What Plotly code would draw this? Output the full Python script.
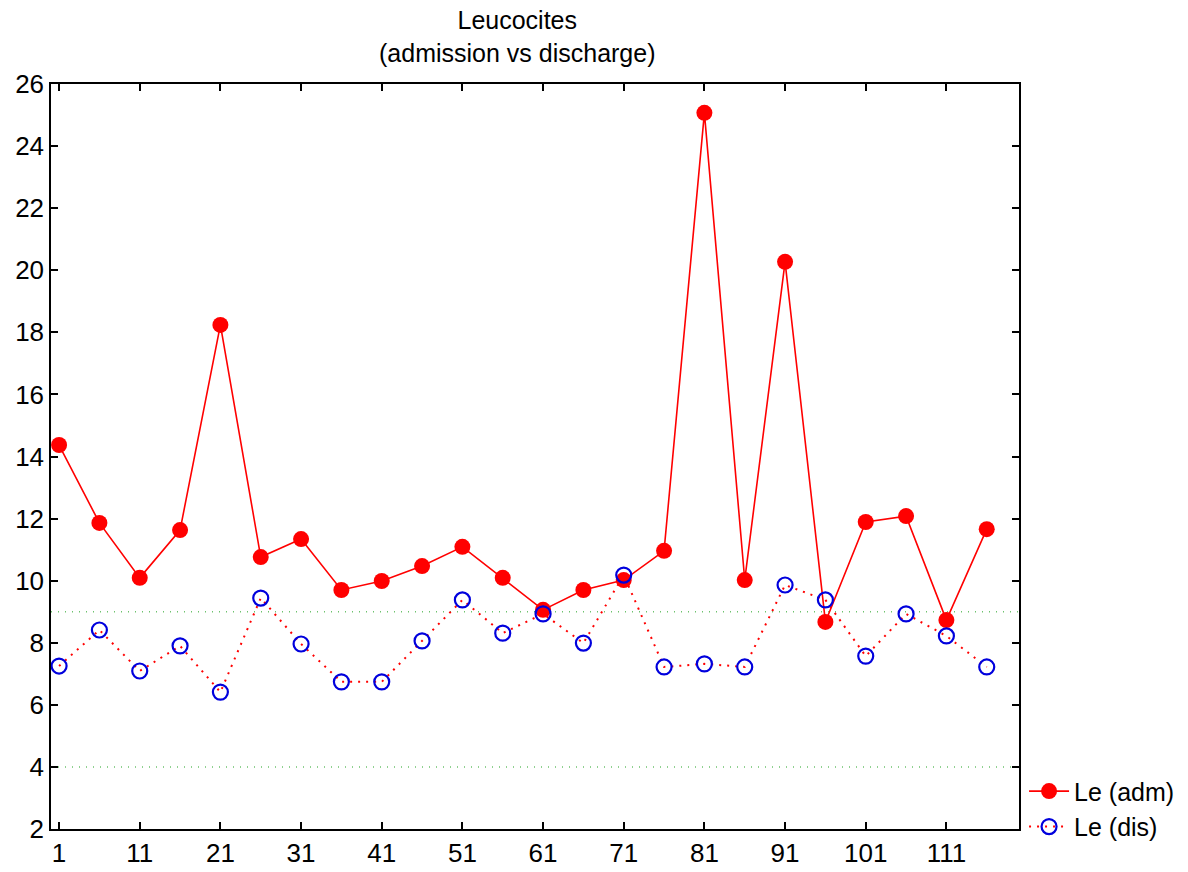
import plotly.graph_objects as go

# Patient index (every 5th case) and leucocyte counts
case_idx = [1, 6, 11, 16, 21, 26, 31, 36, 41, 46, 51, 56, 61, 66, 71, 76, 81, 86, 91, 96, 101, 106, 111, 116]
le_adm = [14.37, 11.86, 10.09, 11.63, 18.24, 10.76, 11.34, 9.70, 9.99, 10.47, 11.09, 10.09,
          9.06, 9.70, 10.02, 10.96, 25.07, 10.02, 20.27, 8.67, 11.89, 12.08, 8.73, 11.66]
le_dis = [7.25, 8.41, 7.09, 7.90, 6.41, 9.44, 7.96, 6.74, 6.74, 8.06, 9.38, 8.31,
          8.93, 7.99, 10.18, 7.22, 7.32, 7.22, 9.86, 9.38, 7.57, 8.93, 8.22, 7.22]

# Reference range limits
ref_lines = [4, 9]

x_ticks = [1, 11, 21, 31, 41, 51, 61, 71, 81, 91, 101, 111]
y_ticks = list(range(2, 27, 2))

FONT = "Liberation Sans, Arial, sans-serif"

fig = go.Figure()

for yv in ref_lines:
    fig.add_shape(type="line", xref="x", yref="y", x0=0, x1=120, y0=yv, y1=yv,
                  line=dict(color="#6cc26c", width=1.5, dash="1px,6px"), layer="below")

fig.add_trace(go.Scatter(
    x=case_idx, y=le_adm, name="Le (adm)", mode="lines+markers",
    line=dict(color="#ff0000", width=1.6),
    marker=dict(symbol="circle", size=16, color="#ff0000", line=dict(width=0)),
))
fig.add_trace(go.Scatter(
    x=case_idx, y=le_dis, name="Le (dis)", mode="lines+markers",
    line=dict(color="#ff0000", width=2, dash="2px,6px"),
    marker=dict(symbol="circle-open", size=15, color="#0000dd", line=dict(width=2.2, color="#0000dd")),
))

fig.add_annotation(
    text="Leucocites<br>(admission vs discharge)", xref="paper", yref="paper",
    x=0.482, y=1.107, xanchor="center", yanchor="top", showarrow=False,
    font=dict(family=FONT, size=25, color="black"),
)

fig.update_layout(
    width=1188, height=872,
    margin=dict(l=51, r=169, t=84, b=43, autoexpand=False),
    paper_bgcolor="white", plot_bgcolor="white",
    font=dict(family=FONT, size=26, color="black"),
    showlegend=True,
    legend=dict(xref="container", yref="container", x=0.862, xanchor="left",
                y=0.026, yanchor="bottom",
                bgcolor="rgba(0,0,0,0)", font=dict(size=25), tracegroupgap=0,
                itemwidth=40),
)

fig.update_xaxes(range=[0, 120], tickvals=x_ticks, ticktext=[str(v) for v in x_ticks],
                 tickfont=dict(size=26), automargin=False,
                 ticks="inside", ticklen=7, tickwidth=1.5, tickcolor="black",
                 showline=True, linecolor="black", linewidth=1.5, mirror="ticks",
                 showgrid=False, zeroline=False)
fig.update_yaxes(range=[2, 26], tickvals=y_ticks, tickfont=dict(size=26), automargin=False,
                 ticks="inside", ticklen=7, tickwidth=1.5,
                 tickcolor="black", showline=True, linecolor="black", linewidth=1.5,
                 mirror="ticks", showgrid=False, zeroline=False)

fig.write_html("out.html")
